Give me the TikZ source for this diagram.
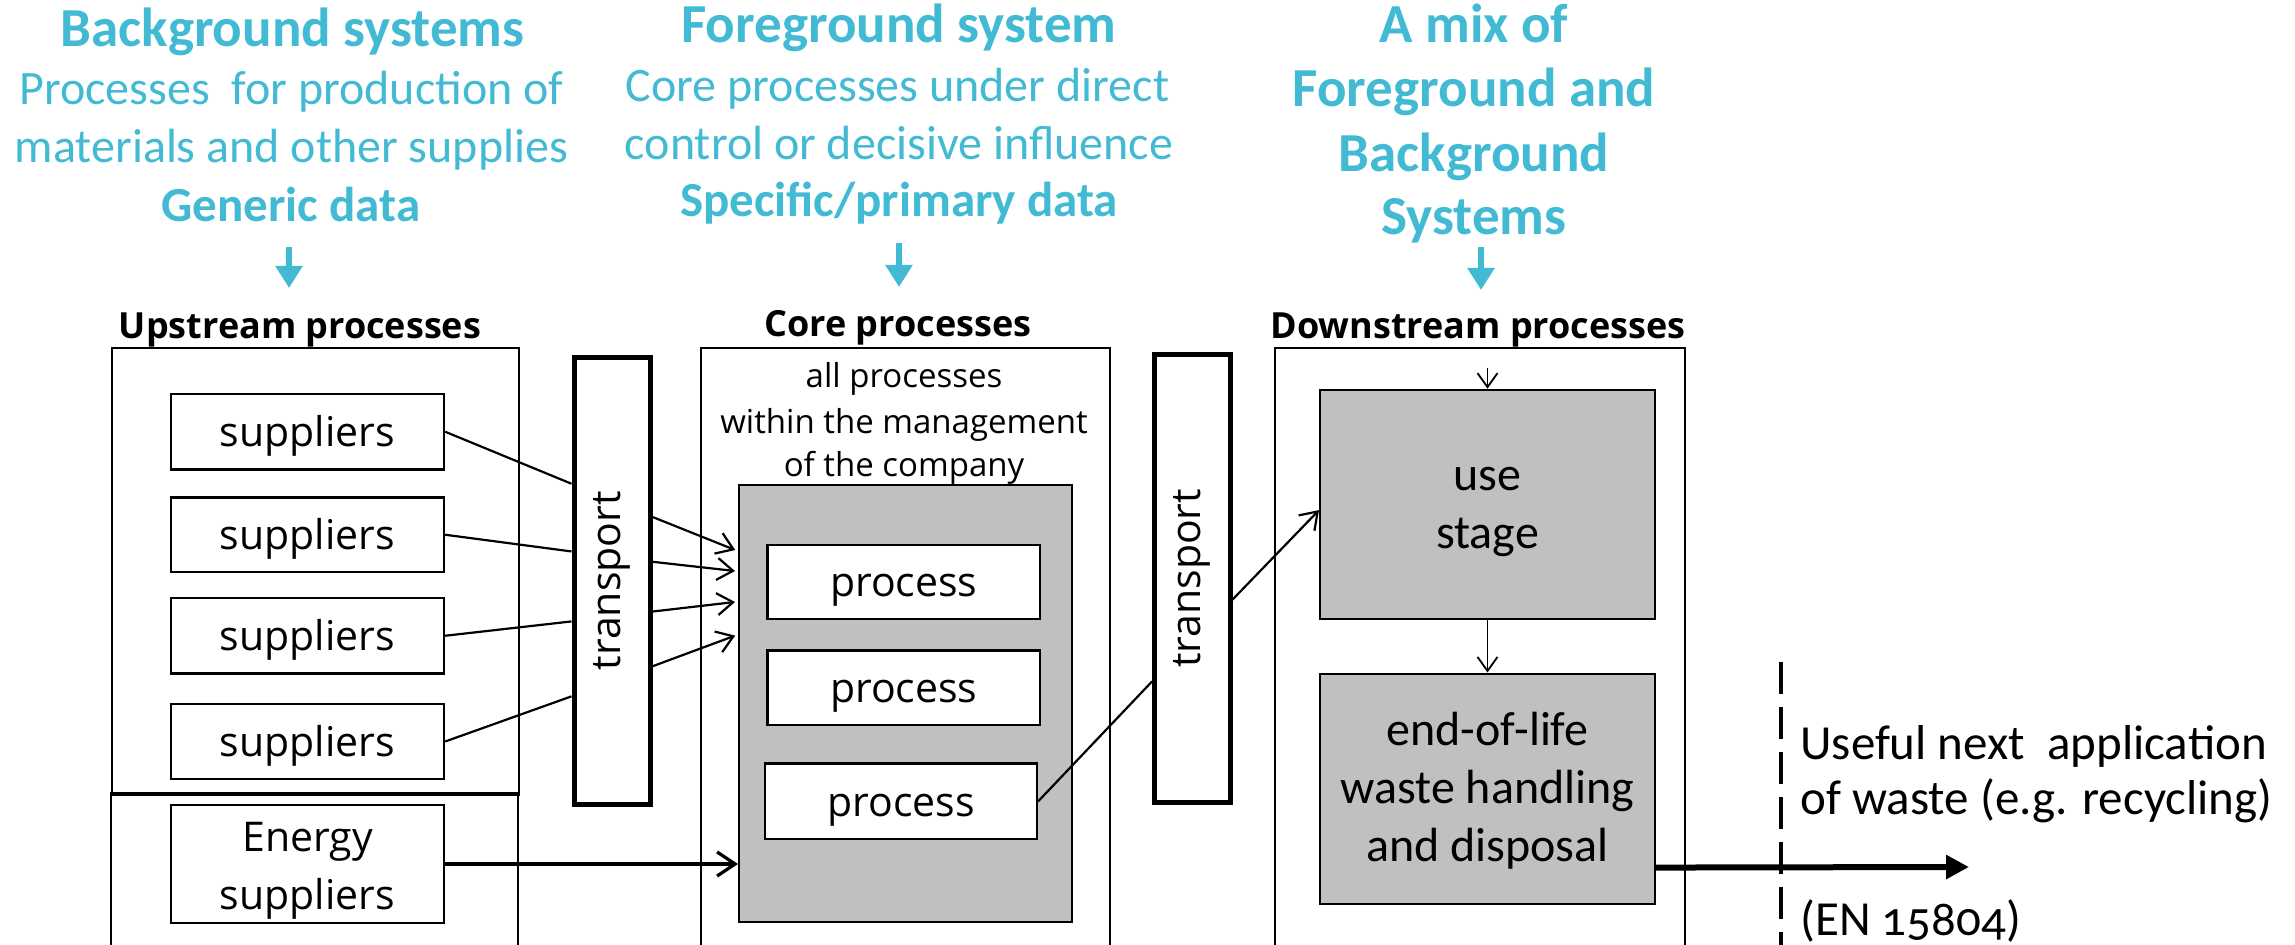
\documentclass[tikz,border=0pt]{standalone}
\usepackage{fontspec}
\usepackage{graphicx}
\setmainfont{Carlito}
\newfontfamily\osfont{Open Sans}
\newfontfamily\osnum[Numbers=OldStyle]{Carlito}
\usetikzlibrary{arrows.meta,calc}
\definecolor{hdcyan}{RGB}{66,186,212}
\definecolor{boxgray}{RGB}{192,192,192}
% stacked lines whose last baseline sits #1 below the top of the reported box
\newcommand\boxlines[2]{\raisebox{0pt}[#1][0pt]{\begin{tabular}[b]{@{}c@{}}#2\end{tabular}}}

\begin{document}
\begin{tikzpicture}[x=0.5pt,y=-0.5pt,
  frame/.style={draw, line width=1pt, inner sep=0pt},
  unit/.style={draw, line width=1.2pt, fill=white, inner sep=0pt,
    text height=15pt, text depth=0pt,
    font=\osfont\fontsize{20.5}{29}\selectfont},
  multiunit/.style={draw, line width=1.2pt, fill=white, inner sep=0pt,
    font=\osfont\fontsize{20.5}{29}\selectfont},
  carrier/.style={draw, line width=2.5pt, fill=white, inner sep=0pt,
    font=\osfont\fontsize{20.5}{29}\selectfont},
  graybox/.style={draw, line width=1pt, fill=boxgray, inner sep=0pt},
  stagebox/.style={graybox, font=\fontsize{24}{29}\selectfont},
  title/.style={anchor=base, font=\osfont\bfseries\fontsize{18}{22}\selectfont},
  noteline/.style={anchor=base, font=\osfont\fontsize{16.5}{22}\selectfont},
  headbig/.style={anchor=base, text=hdcyan, font=\bfseries\fontsize{27.5}{33}\selectfont},
  headmid/.style={anchor=base, text=hdcyan, font=\bfseries\fontsize{24.5}{29}\selectfont},
  headtxt/.style={anchor=base, text=hdcyan, font=\fontsize{24}{29}\selectfont},
  sidetxt/.style={anchor=base west, inner sep=0pt, font=\fontsize{24.5}{28}\selectfont},
  link/.style={line width=1.1pt},
  flow/.style={line width=1.1pt, -{Straight Barb[length=8pt,width=11pt]}},
  thinflow/.style={line width=0.9pt, -{Straight Barb[length=7pt,width=10pt]}},
  heavyflow/.style={line width=1.6pt, -{Straight Barb[length=9pt,width=12pt]}},
  bigflow/.style={line width=3pt, -{Triangle[length=11.5pt,width=11.5pt]}},
  pointer/.style={line width=3pt, draw=hdcyan, -{Triangle[length=11pt,width=13pt]}},
  cut/.style={line width=2pt, dash pattern=on 16pt off 6.5pt},
]
\fill[white] (0,0) rectangle (2295,945);
\useasboundingbox (0,0) rectangle (2295,945);
\clip (0,0) rectangle (2295,945);

% ---------- cyan headings ----------
\node[headbig] (bgT) at (292.5,47) {Background systems};
\node[headtxt] (bg1) at (291.5,105) {Processes\ \ for production of};
\node[headtxt] (bg2) at (291.5,163) {materials and other supplies};
\node[headmid] (bg3) at (291,222) {Generic data};
\coordinate (bgA) at (289,247);
\coordinate (bgB) at (289,288);
\draw[pointer] (bgA) -- (bgB);

\node[headbig] (fgT) at (899,43) {Foreground system};
\node[headtxt] (fg1) at (897.5,102) {Core processes under direct};
\node[headtxt] (fg2) at (899,160) {control or decisive influence};
\node[headmid] (fg3) at (899,217) {Specific/primary data};
\coordinate (fgA) at (899,243);
\coordinate (fgB) at (899,287);
\draw[pointer] (fgA) -- (fgB);

\node[headbig] (mx1) at (1474,43) {A mix of};
\node[headbig] (mx2) at (1474,107) {Foreground and};
\node[headbig] (mx3) at (1474,172) {Background};
\node[headbig] (mx4) at (1474,235) {Systems};
\coordinate (mxA) at (1481,247);
\coordinate (mxB) at (1481,290);
\draw[pointer] (mxA) -- (mxB);

% ---------- upstream ----------
\node[frame, minimum width=203.5pt, minimum height=222.25pt] (upA) at (315.5,570.75) {};
\node[frame, minimum width=203.5pt, minimum height=103.5pt] (upB) at (314.5,896.5) {};
\draw[line width=2pt] (upA.south west) -- (upA.south east);
\node[title] (upT) at (300,339) {Upstream processes};

\node[unit, minimum width=136.5pt, minimum height=37.75pt] (sup1) at (307.5,431.75) {suppliers};
\node[unit, minimum width=136.5pt, minimum height=37.25pt] (sup2) at (307.5,534.75) {suppliers};
\node[unit, minimum width=136.5pt, minimum height=37.75pt] (sup3) at (307.5,635.75) {suppliers};
\node[unit, minimum width=136.5pt, minimum height=37.5pt] (sup4) at (307.5,741.5) {suppliers};
\node[multiunit, minimum width=136.5pt, minimum height=59pt] (energy) at (307.5,864) {\boxlines{45pt}{Energy\\suppliers}};

\node[carrier, minimum width=38.25pt, minimum height=223.2pt] (tr1) at (612.25,580.8) {\rotatebox{90}{transport}};

% ---------- core ----------
\node[frame, minimum width=204.25pt, minimum height=325.75pt] (coreF) at (905.25,674.25) {};
\node[title] (coreT) at (898,337) {Core processes};
\node[noteline] (note1) at (904,388) {all processes};
\node[noteline] (note2) at (904,434) {within the management};
\node[noteline] (note3) at (904,477) {of the company};

\node[graybox, minimum width=166.5pt, minimum height=218.5pt] (core) at (905.5,703.5) {};
\node[unit, minimum width=136.25pt, minimum height=37pt] (proc1) at (903.75,582) {process};
\node[unit, minimum width=136.25pt, minimum height=37.25pt] (proc2) at (903.75,687.75) {process};
\node[unit, minimum width=136pt, minimum height=37.7pt] (proc3) at (901,801.3) {process};

\node[carrier, minimum width=37.75pt, minimum height=223.65pt] (tr2) at (1192.25,578.35) {\rotatebox{90}{transport}};

% ---------- downstream ----------
\node[frame, minimum width=205pt, minimum height=325.75pt] (downF) at (1480,674.25) {};
\node[title] (downT) at (1478,339) {Downstream processes};
\node[stagebox, minimum width=167.5pt, minimum height=114.65pt] (use) at (1487.5,504.35) {\boxlines{44.6pt}{use\\stage}};
\node[stagebox, minimum width=167.5pt, minimum height=115.25pt] (eol) at (1487.5,788.75) {\boxlines{72.8pt}{end-of-life\\waste handling\\and disposal}};

% ---------- connectors ----------
\draw[link] (sup1.east) -- ($(tr1.north west)!0.285!(tr1.south west)$);
\draw[link] (sup2.east) -- ($(tr1.north west)!0.435!(tr1.south west)$);
\draw[link] (sup3.east) -- ($(tr1.north west)!0.590!(tr1.south west)$);
\draw[link] (sup4.east) -- ($(tr1.north west)!0.756!(tr1.south west)$);

\draw[flow, shorten >=1.5pt] ($(tr1.north east)!0.359!(tr1.south east)$) -- ($(core.north west)!0.153!(core.south west)$);
\draw[flow, shorten >=1.5pt] ($(tr1.north east)!0.458!(tr1.south east)$) -- ($(core.north west)!0.199!(core.south west)$);
\draw[flow, shorten >=1.5pt] ($(tr1.north east)!0.568!(tr1.south east)$) -- ($(core.north west)!0.268!(core.south west)$);
\draw[flow, shorten >=1.5pt] ($(tr1.north east)!0.689!(tr1.south east)$) -- ($(core.north west)!0.343!(core.south west)$);

\draw[heavyflow] (energy.east) -- (energy.east -| core.west);

\draw[link] (proc3.east) -- ($(tr2.north west)!0.728!(tr2.south west)$);
\draw[flow] ($(tr2.north east)!0.547!(tr2.south east)$) -- ($(use.north west)!0.525!(use.south west)$);

\coordinate (usein) at (1487.5,368);
\draw[thinflow] (usein) -- (use.north);
\draw[thinflow] (use.south) -- (eol.north);

\coordinate (reuse) at (1969,867);
\draw[bigflow] ($(eol.north east)!0.839!(eol.south east)$) -- (reuse);

\coordinate (cutT) at (1781,662);
\coordinate (cutB) at (1781,960);
\draw[cut] (cutT) -- (cutB);

\node[sidetxt] (useful1) at (1800,759) {Useful next\ \ application};
\node[sidetxt] (useful2) at (1800,814) {of waste (e.g. recycling)};
\node[sidetxt, font=\osnum\fontsize{24.5}{28}\selectfont] (norm) at (1800,935) {(EN 15804)};
\end{tikzpicture}
\end{document}
